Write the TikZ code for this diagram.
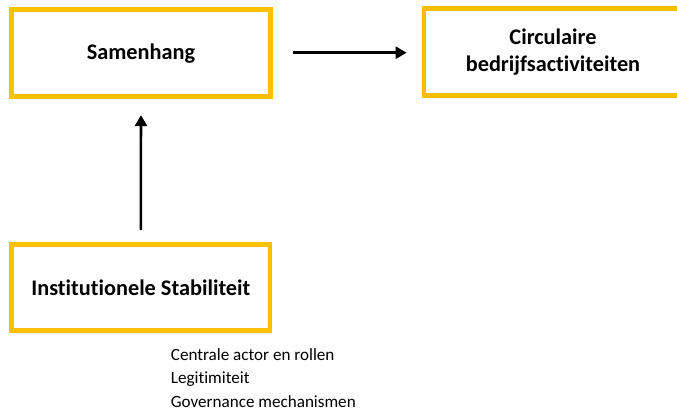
\documentclass[tikz,border=0pt]{standalone}
\usepackage{fontspec}
\setmainfont{Carlito}[Ligatures={NoCommon}]
\usetikzlibrary{arrows.meta}
\definecolor{gold}{HTML}{FFC000}
\begin{document}
\begin{tikzpicture}[x=1pt,y=-1pt,
  box/.style={draw=gold, line width=4.7pt, rectangle, inner sep=0pt,
    font=\fontsize{22.3}{27.7}\selectfont\bfseries, align=center},
  arr/.style={line width=2.6pt, -{Triangle[length=11pt,width=12pt]}},
  note/.style={anchor=base west, inner sep=0pt, font=\fontsize{17.1}{20}\selectfont}]
  \useasboundingbox (0,0) rectangle (677,412);
  \begin{scope}
    \clip (0,0) rectangle (677,412);
    \node[box, minimum width=258.8pt, minimum height=86.7pt] (coh) at (141,53.2) {Samenhang};
    \node[box, minimum width=258pt, minimum height=86.4pt] (circ) at (553,52) {Circulaire\\bedrijfsactiviteiten};
    \node[box, minimum width=258.3pt, minimum height=86pt] (inst) at (140.8,287.8) {Institutionele Stabiliteit};
  \end{scope}
  \draw[arr] ([xshift=20.7pt]coh.east |- 0,52.7) -- ([xshift=-15pt]circ.west |- 0,52.7);
  \draw[arr, shorten <=12.4pt, shorten >=16.2pt] (inst.north) -- (coh.south);
  \node[note] (n1) at (170.7,360) {Centrale actor en rollen};
  \node[note] (n2) at (170.7,383.5) {Legitimiteit};
  \node[note] (n3) at (170.7,407.2) {Governance mechanismen};
\end{tikzpicture}
\end{document}
